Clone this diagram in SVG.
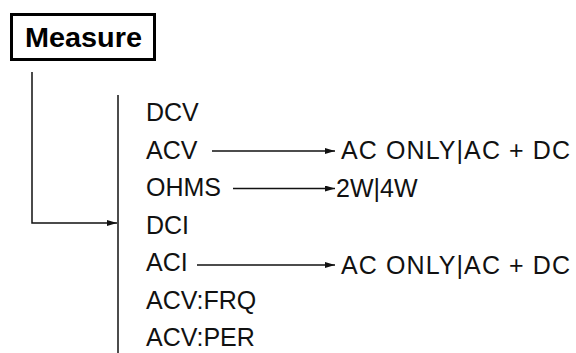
<svg xmlns="http://www.w3.org/2000/svg" width="576" height="353" viewBox="0 0 576 353">
<defs>
<style>
.t{font-family:"Liberation Sans",Arial,sans-serif;font-size:25px;fill:#111;}
.b{font-family:"Liberation Sans",Arial,sans-serif;font-size:28px;font-weight:bold;fill:#000;}
.c{stroke:#111;stroke-width:1.5;fill:none;}
</style>
<marker id="ah" viewBox="0 0 10 6" refX="10" refY="3" markerWidth="10" markerHeight="6" markerUnits="userSpaceOnUse" orient="auto">
<path d="M0,0 L10,3 L0,6 Z" fill="#111"/>
</marker>
</defs>
<rect width="576" height="353" fill="#fff"/>
<g id="measure">
<rect x="11.5" y="14.5" width="143" height="45" fill="none" stroke="#000" stroke-width="3"/>
<text class="b" x="25" y="47" textLength="117" lengthAdjust="spacingAndGlyphs">Measure</text>
</g>
<g id="connectors">
<path class="c" d="M32,72 V223 H117" marker-end="url(#ah)"/>
<path class="c" d="M118,95 V353"/>
<path class="c" d="M212,151 H335" marker-end="url(#ah)"/>
<path class="c" d="M233,188.5 H335" marker-end="url(#ah)"/>
<path class="c" d="M197,265 H335" marker-end="url(#ah)"/>
</g>
<g id="dcv"><text class="t" x="146" y="121">DCV</text></g>
<g id="acv"><text class="t" x="146" y="158.5">ACV</text></g>
<g id="ohms"><text class="t" x="146" y="196">OHMS</text></g>
<g id="dci"><text class="t" x="146" y="233.5">DCI</text></g>
<g id="aci"><text class="t" x="146" y="271">ACI</text></g>
<g id="acvfrq"><text class="t" x="146" y="308.5">ACV:FRQ</text></g>
<g id="acvper"><text class="t" x="146" y="346">ACV:PER</text></g>
<g id="acv-opt"><text class="t" x="341" y="159" textLength="229" lengthAdjust="spacing">AC ONLY|AC + DC</text></g>
<g id="ohms-opt"><text class="t" x="336" y="197">2W|4W</text></g>
<g id="aci-opt"><text class="t" x="341" y="274" textLength="229" lengthAdjust="spacing">AC ONLY|AC + DC</text></g>
</svg>
